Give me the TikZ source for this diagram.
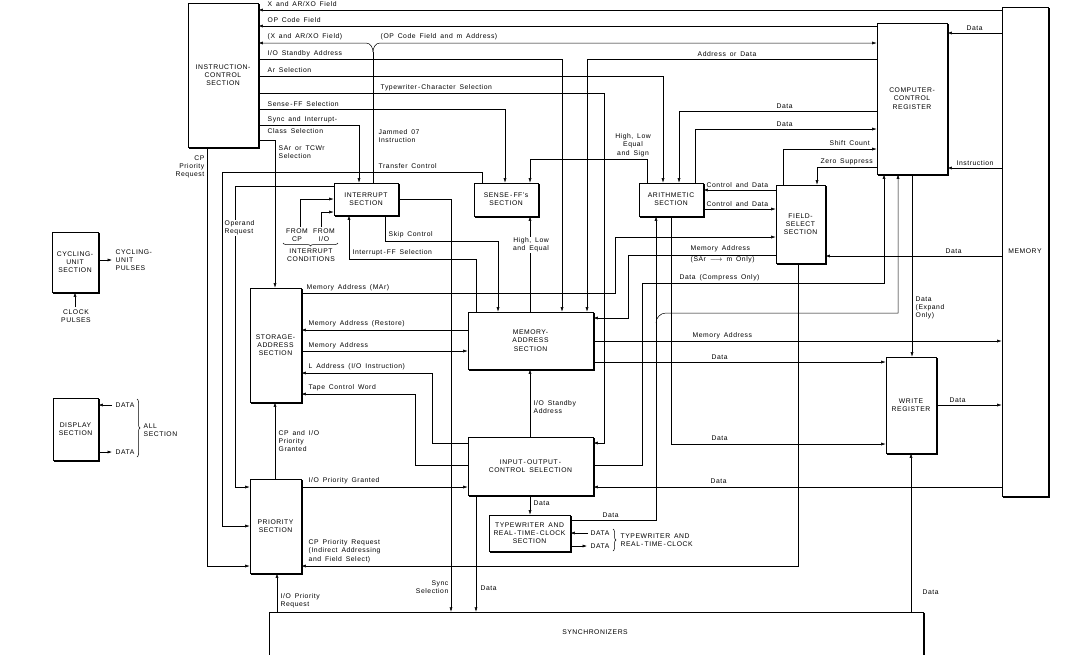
\documentclass[tikz,border=0pt]{standalone}
\usepackage{fontspec}
\setmainfont{Liberation Sans}[LetterSpace=8,WordSpace=1.6]
\usetikzlibrary{arrows.meta,decorations.pathreplacing}
\begin{document}
\begin{tikzpicture}[x=1pt,y=-1pt,
  every node/.style={font=\fontsize{6.8}{8.3}\selectfont, inner sep=0.5pt},
  blk/.style={draw, line width=0.6pt, align=center, inner sep=0pt},
  lbl/.style={anchor=west, align=left},
  ln/.style={line width=0.5pt},
  arr/.style={ln,-{Latex[length=4.5pt,width=3pt]}},
  shad/.style={line width=1.6pt},
  brc/.style={ln,decorate,decoration={brace,amplitude=3pt}}
]
\useasboundingbox (0,0) rectangle (1075,654);
\fill[white] (0,0) rectangle (1075,654);

% ---------- blocks ----------
\node[blk,minimum width=70pt,minimum height=144pt] (ic) at (223,75) {INSTRUCTION-\\CONTROL\\SECTION};
\node[blk,minimum width=70pt,minimum height=151pt] (ccr) at (912,98.5) {COMPUTER-\\CONTROL\\REGISTER};
\node[blk,minimum width=46pt,minimum height=489pt] (mem) at (1025,251.5) {MEMORY};
\node[blk,minimum width=49pt,minimum height=78pt] (fs) at (800.5,224) {FIELD-\\SELECT\\SECTION};
\node[blk,minimum width=64pt,minimum height=33pt] (ar) at (671,199.5) {ARITHMETIC\\SECTION};
\node[blk,minimum width=64pt,minimum height=33pt] (sff) at (506,199.5) {SENSE\,-\,FF's\\SECTION};
\node[blk,minimum width=64pt,minimum height=32pt] (intr) at (366,199) {INTERRUPT\\SECTION};
\node[blk,minimum width=51pt,minimum height=114pt] (sa) at (275.5,345) {STORAGE-\\ADDRESS\\SECTION};
\node[blk,minimum width=125pt,minimum height=57pt] (ma) at (530.5,340.5) {MEMORY-\\ADDRESS\\SECTION};
\node[blk,minimum width=125pt,minimum height=58pt] (io) at (530.5,466) {INPUT\,-\,OUTPUT\,-\\CONTROL SELECTION};
\node[blk,minimum width=81pt,minimum height=36pt] (tw) at (529.5,533) {TYPEWRITER AND\\REAL\,-\,TIME\,-\,CLOCK\\SECTION};
\node[blk,minimum width=50pt,minimum height=96pt] (wr) at (911,405) {WRITE\\REGISTER};
\node[blk,minimum width=51pt,minimum height=94pt] (pr) at (275.5,526) {PRIORITY\\SECTION};
\node[blk,minimum width=46pt,minimum height=60pt] (cu) at (75,262) {CYCLING-\\UNIT\\SECTION};
\node[blk,minimum width=45pt,minimum height=62pt] (disp) at (75.5,429) {DISPLAY\\SECTION};
\node[minimum width=655pt,minimum height=84pt,inner sep=0pt] (sync) at (596.5,654) {};
\node (synct) at (595,632) {SYNCHRONIZERS};
\draw[line width=0.6pt] (sync.south west) -- (sync.north west) -- (sync.north east);
\draw[shad] ([yshift=-1pt]sync.north east) -- (sync.south east);

\foreach \n in {ic,ccr,mem,fs,ar,sff,intr,sa,ma,io,tw,wr,pr,cu,disp}
  \draw[shad] ([shift={(0.7pt,-1.5pt)}]\n.north east) -- ([shift={(0.7pt,-0.7pt)}]\n.south east) -- ([shift={(1.5pt,-0.7pt)}]\n.south west);

% ---------- top bus ----------
\draw[arr] (mem.west|-0,10) -- (ic.east|-0,10);
\node[lbl] at (267,4.5) {X and AR/XO Field};
\draw[arr] (ccr.west|-0,26) -- (ic.east|-0,26);
\node[lbl] at (267,20) {OP Code Field};
\coordinate (jm) at (373,52);
\draw[ln] (intr.north-|jm) -- (jm);
\draw[arr] (jm) to[out=90,in=0] (366,43) -- (ic.east|-0,43);
\draw[arr] (jm) to[out=90,in=180] (380,43) -- (ccr.west|-0,43);
\node[lbl] at (267,37) {(X and AR/XO Field)};
\node[lbl] at (380,37) {(OP Code Field and m Address)};
\node[lbl] at (378,136) {Jammed 07\\Instruction};

\draw[arr] (ic.east|-0,59) -- (562,59) -- (ma.north-|562,0);
\node[lbl] at (267,54) {I/O Standby Address};
\draw[arr] (ccr.west|-0,59) -- (587,59) -- (ma.north-|587,0);
\node[lbl] at (697,54) {Address or Data};
\draw[arr] (ic.east|-0,76) -- (663,76) -- (ar.north-|663,0);
\node[lbl] at (267,70) {Ar Selection};
\draw[arr] (ic.east|-0,93) -- (604,93) -- (604,443) -- (io.east|-0,443);
\node[lbl] at (380,88) {Typewriter\,-\,Character Selection};
\draw[arr] (ic.east|-0,109) -- (505,109) -- (sff.north-|505,0);
\node[lbl] at (267,104) {Sense\,-\,FF Selection};
\draw[arr] (ic.east|-0,125) -- (359,125) -- (intr.north-|359,0);
\node[lbl] at (267,119.5) {Sync and Interrupt-};
\node[lbl] at (267,131) {Class Selection};
\draw[arr] (ic.east|-0,140) -- (275,140) -- (sa.north-|275,0);
\node[lbl] at (278,152) {SAr or TCWr\\Selection};

% ---------- left vertical requests ----------
\draw[arr] (ic.south-|207,0) -- (207,566) -- (pr.west|-0,566);
\node[anchor=east,align=right] at (205,167) {CP\\Priority\\Request};
\draw[arr] (sff.north-|482,0) -- (482,172) -- (222,172) -- (222,526) -- (pr.west|-0,526);
\node[lbl] at (378,166) {Transfer Control};
\draw[arr] (intr.west|-0,186) -- (235,186) -- (235,487) -- (pr.west|-0,487);
\node[lbl,fill=white] at (224,228) {Operand\\Request};

% ---------- interrupt ----------
\coordinate (fcp) at (300,227);
\coordinate (fio) at (321,227);
\draw[arr] (fcp) -- (300,199) -- (intr.west|-0,199);
\draw[arr] (fio) -- (321,212) -- (intr.west|-0,212);
\node[align=center] at (297,235.5) {FROM\\CP};
\node[align=center] at (324,235.5) {FROM\\I/O};
\draw[brc] (338,243) -- (283,243);
\node[align=center] at (311,255.5) {INTERRUPT\\CONDITIONS};
\draw[arr] (ma.north-|476,0) -- (476,259) -- (349,259) -- (intr.south-|349,0);
\node[lbl] at (352,253) {Interrupt\,-\,FF Selection};
\draw[arr] (intr.south-|385,0) -- (385,241) -- (498,241) -- (ma.north-|498,0);
\node[lbl] at (388,235) {Skip Control};
\draw[arr] (intr.east|-0,199) -- (451,199) -- (sync.north-|451,0);
\node[anchor=east,align=right] at (449,587) {Sync\\Selection};
\draw[arr] (io.south-|476,0) -- (sync.north-|476,0);
\node[lbl] at (480,588) {Data};

% ---------- sense / arithmetic ----------
\draw[arr] (ma.north-|530,0) -- (sff.south-|530,0);
\node[align=center,fill=white] at (531,245) {High, Low\\and Equal};
\draw[arr] (ar.north-|647,0) -- (647,159) -- (530,159) -- (sff.north-|530,0);
\node[align=center] at (633,145) {High, Low\\Equal\\and Sign};
\draw[arr] (ccr.west|-0,111) -- (679,111) -- (ar.north-|679,0);
\node[lbl] at (776,106) {Data};
\draw[arr] (ar.north-|695,0) -- (695,129) -- (ccr.west|-0,129);
\node[lbl] at (776,124) {Data};
\draw[arr] (fs.north-|783,0) -- (783,149) -- (ccr.west|-0,149);
\node[lbl] at (829,143) {Shift Count};
\draw[arr] (ccr.west|-0,167) -- (817,167) -- (fs.north-|817,0);
\node[lbl] at (820,162) {Zero Suppress};
\draw[arr] (mem.west|-0,33) -- (ccr.east|-0,33);
\node[lbl] at (966,28) {Data};
\draw[arr] (mem.west|-0,168) -- (ccr.east|-0,168);
\node[lbl] at (956,163) {Instruction};
\draw[arr] (fs.west|-0,190) -- (ar.east|-0,190);
\node[lbl] at (706,185) {Control and Data};
\draw[arr] (ar.east|-0,209) -- (fs.west|-0,209);
\node[lbl] at (706,204) {Control and Data};

% ---------- field select / memory address ----------
\draw[arr] (sa.east|-0,293) -- (615,293) -- (615,237) -- (fs.west|-0,237);
\node[lbl] at (306,288) {Memory Address (MAr)};
\draw[arr] (fs.west|-0,255) -- (628,255) -- (628,318) -- (ma.east|-0,318);
\node[lbl] at (690,249) {Memory Address};
\node[lbl] at (690,260) {(SAr $\longrightarrow$ m Only)};
\draw[arr] (mem.west|-0,256) -- (fs.east|-0,256);
\node[lbl] at (945,251) {Data};
\draw[arr] (io.east|-0,465) -- (642,465) -- (642,283) -- (884,283) -- (ccr.south-|884,0);
\node[lbl] at (679,278) {Data (Compress Only)};
\draw[arr] (tw.east|-0,520) -- (656,520) -- (ar.south-|656,0);
\draw[arr] (656,323) to[out=90,in=180] (666,313) -- (898,313) -- (ccr.south-|898,0);
\node[lbl] at (602,515) {Data};
\draw[arr] (ar.south-|671,0) -- (671,444) -- (wr.west|-0,444);
\node[lbl] at (711,438) {Data};
\draw[arr] (ccr.south-|912,0) -- (wr.north-|912,0);
\node[lbl] at (915,308) {Data\\(Expand\\Only)};
\draw[arr] (ma.east|-0,341) -- (mem.west|-0,341);
\node[lbl] at (692,336) {Memory Address};
\draw[arr] (ma.east|-0,362) -- (wr.west|-0,362);
\node[lbl] at (711,357) {Data};
\draw[arr] (wr.east|-0,405) -- (mem.west|-0,405);
\node[lbl] at (949,400) {Data};
\draw[arr] (mem.west|-0,487) -- (io.east|-0,487);
\node[lbl] at (710,481) {Data};
\draw[arr] (fs.south-|798,0) -- (798,566) -- (pr.east|-0,566);
\node[lbl] at (308,551) {CP Priority Request\\(Indirect Addressing\\and Field Select)};

% ---------- storage address ----------
\draw[arr] (ma.west|-0,330) -- (sa.east|-0,330);
\node[lbl] at (308,324) {Memory Address (Restore)};
\draw[arr] (sa.east|-0,351) -- (ma.west|-0,351);
\node[lbl] at (308,345.5) {Memory Address};
\draw[arr] (io.west|-0,443) -- (432,443) -- (432,373) -- (sa.east|-0,373);
\node[lbl] at (308,367) {L Address (I/O Instruction)};
\draw[arr] (io.west|-0,465) -- (415,465) -- (415,394) -- (sa.east|-0,394);
\node[lbl] at (308,388) {Tape Control Word};
\draw[arr] (pr.east|-0,487) -- (io.west|-0,487);
\node[lbl] at (308,481) {I/O Priority Granted};
\draw[arr] (pr.north-|275,0) -- (sa.south-|275,0);
\node[lbl] at (278,441) {CP and I/O\\Priority\\Granted};

% ---------- input-output ----------
\draw[arr] (io.north-|530,0) -- (ma.south-|530,0);
\node[lbl] at (533,407) {I/O Standby\\Address};
\draw[arr] (io.south-|530,0) -- (tw.north-|530,0);
\node[lbl] at (533,503) {Data};
\coordinate (twin) at (588,533);
\coordinate (twout) at (587,546);
\draw[arr] (twin) -- (tw.east|-0,533);
\draw[arr] (tw.east|-0,546) -- (twout);
\node[lbl] at (590,533) {DATA};
\node[lbl] at (590,546) {DATA};
\draw[brc] (613,529) -- (613,551);
\node[lbl] at (620,540) {TYPEWRITER AND\\REAL\,-\,TIME\,-\,CLOCK};

% ---------- synchronizers ----------
\draw[arr] (sync.north-|277,0) -- (pr.south-|277,0);
\node[lbl] at (280,601) {I/O Priority\\Request};
\draw[arr] (sync.north-|911,0) -- (wr.south-|911,0);
\node[lbl] at (922,592) {Data};

% ---------- left blocks ----------
\coordinate (cuo) at (112,260);
\coordinate (clk) at (75,307);
\draw[arr] (cu.east|-0,260) -- (cuo);
\node[lbl] at (115,260) {CYCLING-\\UNIT\\PULSES};
\draw[arr] (clk) -- (cu.south-|75,0);
\node[align=center] at (76,316) {CLOCK\\PULSES};
\coordinate (dpi) at (112,405);
\coordinate (dpo) at (112,452);
\draw[arr] (dpi) -- (disp.east|-0,405);
\draw[arr] (disp.east|-0,452) -- (dpo);
\node[lbl] at (115,405) {DATA};
\node[lbl] at (115,452) {DATA};
\draw[brc] (137,399) -- (137,457);
\node[lbl] at (143,430) {ALL\\SECTION};
\end{tikzpicture}
\end{document}
